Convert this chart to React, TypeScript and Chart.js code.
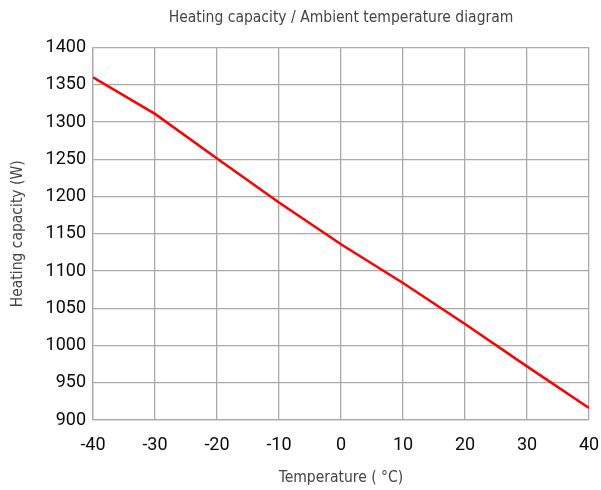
import React, { useEffect, useRef } from "react";
import { Chart, registerables } from "chart.js";

Chart.register(...registerables);

const temperatures = [-40, -30, -20, -10, 0, 10, 20, 30, 40];
const capacity = [1360, 1311, 1251, 1192, 1136, 1084, 1029, 972, 916];

const chartTitle = "Heating capacity / Ambient temperature diagram";
const xTitle = "Temperature ( °C)";
const yTitle = "Heating capacity (W)";

const condensed = "'DejaVu Sans Condensed', 'Liberation Sans Narrow', sans-serif";
const tickFont = "Roboto, 'Liberation Sans', Arial, sans-serif";

export default function App() {
  const ref = useRef<HTMLCanvasElement | null>(null);
  useEffect(() => {
    if (!ref.current) return;
    const chart = new Chart(ref.current, {
      type: "line",
      data: {
        datasets: [
          {
            data: temperatures.map((t, i) => ({ x: t, y: capacity[i] })),
            borderColor: "#ff0000",
            borderWidth: 2.5,
            pointRadius: 0,
            tension: 0,
          },
        ],
      },
      options: {
        animation: false,
        responsive: false,
        layout: { padding: { left: 0, right: 12, top: 0, bottom: 0 } },
        plugins: {
          legend: { display: false },
          tooltip: { enabled: false },
          title: {
            display: true,
            fullSize: false,
            text: chartTitle,
            color: "#444",
            font: { family: condensed, size: 15.5, weight: "normal" },
            padding: { top: 9, bottom: 20 },
          },
        },
        scales: {
          x: {
            type: "linear",
            min: -40,
            max: 40,
            ticks: {
              stepSize: 10,
              color: "#0a0a0a",
              font: { family: tickFont, size: 18 },
              padding: 15,
              callback: (v: any) => String(v),
            },
            grid: { color: "#aaaaaa", lineWidth: 1.3, drawTicks: false },
            border: { color: "#aaaaaa", width: 1.3 },
            title: {
              display: true,
              text: xTitle,
              color: "#444",
              font: { family: condensed, size: 15.5 },
              padding: { top: 8, bottom: 3 },
            },
            afterFit: (s: any) => {
              s.height = 70;
              s.paddingRight = 0;
              s.paddingLeft = 0;
            },
          },
          y: {
            type: "linear",
            min: 900,
            max: 1400,
            ticks: {
              stepSize: 50,
              color: "#0a0a0a",
              font: { family: tickFont, size: 18 },
              padding: 7,
              callback: (v: any) => String(v),
            },
            grid: { color: "#aaaaaa", lineWidth: 1.3, drawTicks: false },
            border: { color: "#aaaaaa", width: 1.3 },
            title: {
              display: true,
              text: yTitle,
              color: "#444",
              font: { family: condensed, size: 15.5 },
              padding: { top: 9, bottom: 4 },
            },
            afterFit: (s: any) => {
              s.width = 93;
              s.paddingTop = 0;
              s.paddingBottom = 0;
            },
          },
        },
      },
    });
    return () => chart.destroy();
  }, []);
  return (
    <div style={{ position: "fixed", left: 0, top: 0, width: 601, height: 490, background: "#fff" }}>
      <canvas ref={ref} width={601} height={490} />
    </div>
  );
}
